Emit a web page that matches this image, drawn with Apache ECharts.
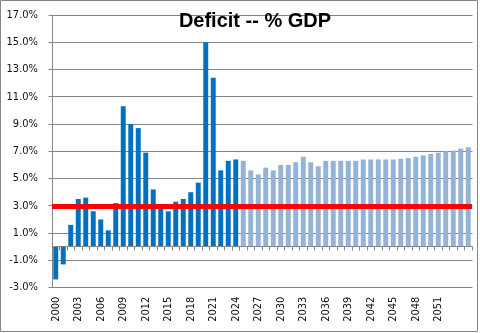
<!DOCTYPE html>
<html>
<head>
<meta charset="utf-8">
<script src="https://cdn.jsdelivr.net/npm/echarts@6/dist/echarts.min.js"></script>
<style>
html,body{margin:0;padding:0;background:#fff;}
#chart{width:480px;height:333px;}
</style>
</head>
<body>
<div id="chart"></div>
<script>
var years = ['2000','2001','2002','2003','2004','2005','2006','2007','2008','2009',
  '2010','2011','2012','2013','2014','2015','2016','2017','2018','2019',
  '2020','2021','2022','2023','2024','2025','2026','2027','2028','2029',
  '2030','2031','2032','2033','2034','2035','2036','2037','2038','2039',
  '2040','2041','2042','2043','2044','2045','2046','2047','2048','2049',
  '2050','2051','2052','2053','2054','2055'];
var shownYearLabels = ['2000','2003','2006','2009','2012','2015','2018','2021','2024',
  '2027','2030','2033','2036','2039','2042','2045','2048','2051'];
var actualDeficit = [-2.4,-1.3,1.6,3.5,3.6,2.6,2.0,1.2,3.2,10.3,
  9.0,8.7,6.9,4.2,2.8,2.6,3.3,3.5,4.0,4.7,
  15.0,12.4,5.6,6.3,6.4];
var projectedDeficit = [6.3,5.6,5.3,5.8,5.6,6.0,6.0,6.2,6.6,6.2,5.9,6.3,
  6.3,6.3,6.3,6.3,
  6.4,6.4,6.4,6.4,6.4,
  6.45,6.5,6.6,6.7,6.8,6.9,7.0,7.05,7.2,7.3];
var threshold = 3.0;
var yTickValues = [-3,-1,1,3,5,7,9,11,13,15,17];
var titleText = 'Deficit -- % GDP';

var nActual = actualDeficit.length;
var actualSeries = years.map(function(y, i){ return i < nActual ? actualDeficit[i] : null; });
var projSeries = years.map(function(y, i){ return i < nActual ? null : projectedDeficit[i - nActual]; });
var emptySeries = years.map(function(){ return null; });

var gray = '#868686';
var labelFont = "'DejaVu Sans Condensed', 'Liberation Sans', sans-serif";
var gridBox = {left: 52, top: 15, width: 420, height: 272.6};

var chart = echarts.init(document.getElementById('chart'), null, {renderer: 'canvas'});
chart.setOption({
  animation: false,
  backgroundColor: '#fff',
  title: {
    text: titleText,
    left: 250, top: 6,
    textAlign: 'center',
    textStyle: {fontFamily: "'Liberation Sans', Arial, sans-serif", fontWeight: 'bold', fontSize: 20, color: '#000'}
  },
  grid: gridBox,
  xAxis: {
    type: 'category', data: years,
    axisLine: {show: false, onZero: false},
    axisTick: {show: false},
    axisLabel: {rotate: 90, margin: 9, fontSize: 11, fontFamily: labelFont, color: '#111',
      interval: function(i, v){ return shownYearLabels.indexOf(v) >= 0; }}
  },
  yAxis: {
    type: 'value', min: yTickValues[0], max: yTickValues[yTickValues.length - 1], interval: 2,
    axisLine: {show: false},
    axisTick: {show: false},
    axisLabel: {margin: 14, fontSize: 11, fontFamily: labelFont, color: '#111',
      formatter: function(v){ return v.toFixed(1) + '%'; }},
    splitLine: {show: false}
  },
  series: [{
    name: 'Actual', type: 'bar', data: actualSeries, z: 2,
    barCategoryGap: '34%', barGap: '-100%',
    itemStyle: {color: '#0070C0'}
  }, {
    name: 'Projected', type: 'bar', data: projSeries, z: 2,
    barCategoryGap: '34%', barGap: '-100%',
    itemStyle: {color: '#95B3D7'}
  }, {
    name: 'threshold', type: 'line', data: emptySeries, z: 5, silent: true, showSymbol: false,
    markLine: {
      silent: true, symbol: ['none', 'none'], label: {show: false},
      lineStyle: {color: '#FF0000', width: 5, type: 'solid'},
      data: [{yAxis: threshold}]
    }
  }]
});

// Axis lines, gridlines and ticks positioned through the chart's own scales
function crisp(p){ return Math.round(p - 0.5) + 0.5; }
var toY = function(v){ return chart.convertToPixel({yAxisIndex: 0}, v); };
var toX = function(i){ return chart.convertToPixel({xAxisIndex: 0}, i); };
var band = toX(1) - toX(0);
var xLeft = crisp(toX(0) - band / 2);
var xRight = crisp(toX(years.length - 1) + band / 2);
var yTop = crisp(toY(yTickValues[yTickValues.length - 1]));
var yBottom = crisp(toY(yTickValues[0]));
var yZero = crisp(toY(0));
var els = [];
function seg(x1, y1, x2, y2, z){
  els.push({type: 'line', silent: true, z: z,
    shape: {x1: x1, y1: y1, x2: x2, y2: y2},
    style: {stroke: gray, lineWidth: 1}});
}
yTickValues.forEach(function(v){
  var y = crisp(toY(v));
  seg(xLeft - 4, y, xRight, y, 1);
});
seg(xLeft, yTop, xLeft, yBottom, 1);
seg(xLeft, yZero, xRight, yZero, 3);
for (var i = 0; i <= years.length; i++) {
  var bx = crisp(toX(0) - band / 2 + i * band);
  seg(bx, yZero, bx, yZero + 4, 3);
}
els.push({type: 'rect', silent: true, z: 100,
  shape: {x: 0.5, y: 0.5, width: 477, height: 331},
  style: {fill: 'none', stroke: gray, lineWidth: 1}});
chart.setOption({graphic: els});
</script>
</body>
</html>
